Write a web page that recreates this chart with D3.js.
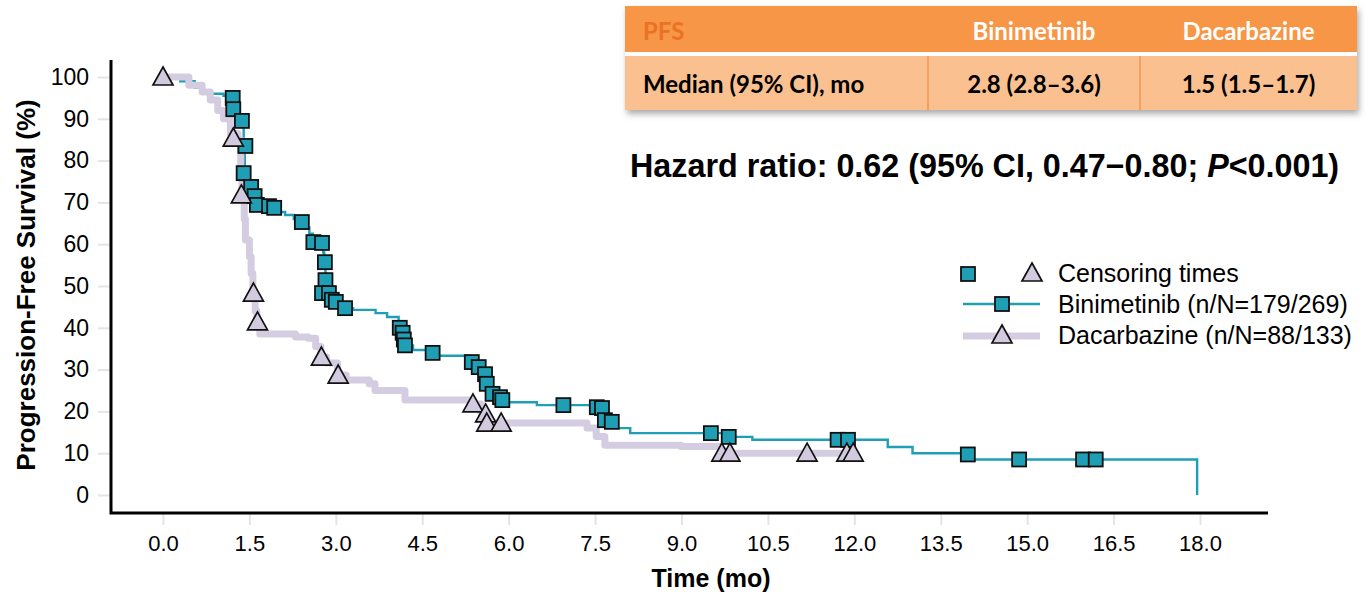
<!DOCTYPE html>
<html>
<head>
<meta charset="utf-8">
<script src="https://cdn.jsdelivr.net/npm/d3@7"></script>
<style>
  body { margin: 0; background: #fff; }
  svg { display: block; font-family: "Liberation Sans", Arial, sans-serif; }
</style>
</head>
<body>
<svg id="chart" width="1371" height="592"></svg>
<script>
"use strict";

// ---- data ----
const xTicks = [0, 1.5, 3, 4.5, 6, 7.5, 9, 10.5, 12, 13.5, 15, 16.5, 18];
const yTicks = [0, 10, 20, 30, 40, 50, 60, 70, 80, 90, 100];

// [month, PFS %] : level holds from this month onward
const biniSteps = [
  [0, 100], [0.3, 99], [0.55, 97.5], [0.7, 96], [1.05, 95.5], [1.2, 94], [1.24, 92.3], [1.3, 91],
  [1.36, 89.5], [1.4, 83.5], [1.42, 77], [1.47, 75], [1.5, 73.7], [1.57, 72.2], [1.61, 71],
  [1.64, 69.8], [1.7, 69.4], [1.84, 69.1], [1.93, 68.7], [2.02, 67.7], [2.12, 67], [2.27, 66],
  [2.4, 65.3], [2.48, 64], [2.54, 62.5], [2.6, 61], [2.68, 60.3], [2.78, 58], [2.8, 56],
  [2.82, 53], [2.83, 51.2], [2.84, 49], [2.88, 48], [2.95, 47], [3.02, 46.2], [3.12, 45.2],
  [3.18, 44.7], [3.3, 44.3], [3.69, 43.5], [3.89, 42.6], [4.09, 40], [4.16, 38.5], [4.19, 37],
  [4.22, 35.8], [4.34, 34.7], [4.64, 34.0], [4.77, 33.3], [5.33, 32.4], [5.43, 31], [5.53, 30],
  [5.57, 28], [5.62, 26.6], [5.67, 25.5], [5.74, 24.2], [5.83, 23.4], [5.89, 22.7], [5.97, 22.2],
  [6.49, 21.5], [7.55, 21], [7.63, 20.6], [7.67, 18.2], [7.82, 17.8], [7.88, 16], [8.11, 14.8],
  [9.79, 13.9], [10.23, 13.2], [12.58, 11.5], [13.01, 10], [14.0, 8.5], [17.95, 0]
];
const dacaSteps = [
  [0, 100], [0.45, 98], [0.68, 96.4], [0.82, 94.5], [0.95, 92], [1.05, 90], [1.17, 86.5],
  [1.3, 85], [1.35, 78], [1.37, 71.5], [1.41, 66], [1.43, 61], [1.5, 57], [1.53, 53],
  [1.56, 48.3], [1.6, 44], [1.63, 41.4], [1.68, 38.5], [2.3, 37.8], [2.52, 37.5], [2.65, 35.5],
  [2.74, 33], [2.84, 31.6], [3.03, 28.7], [3.18, 27.5], [3.58, 26.6], [3.68, 25], [4.2, 22.7],
  [5.35, 21.8], [5.52, 19.6], [5.59, 17.2], [7.36, 16], [7.52, 14], [7.67, 11.9], [8.99, 11.6],
  [9.68, 10], [12.0, 10]
];

const biniCensor = [
  [1.21, 95], [1.22, 92.3], [1.37, 89.5], [1.43, 83.5], [1.4, 77], [1.53, 73.7], [1.59, 71.5],
  [1.63, 69.4], [1.84, 69.1], [1.93, 68.7], [2.41, 65.3], [2.61, 60.5], [2.76, 60.3],
  [2.81, 55.7], [2.82, 51.4], [2.76, 48.3], [2.88, 48.3], [2.93, 46.7], [3.0, 46.2],
  [3.16, 44.7], [4.11, 40], [4.16, 38.8], [4.18, 37.2], [4.2, 35.8], [4.68, 34], [5.36, 31.8],
  [5.48, 30.6], [5.59, 28.9], [5.62, 26.6], [5.72, 24.2], [5.85, 23.4], [5.89, 22.7],
  [6.95, 21.5], [7.53, 21], [7.62, 20.8], [7.67, 17.9], [7.79, 17.5], [9.51, 14.8], [9.82, 13.9],
  [11.71, 13.2], [11.89, 13.2], [13.97, 9.7], [14.86, 8.5], [15.97, 8.5], [16.19, 8.5]
];
const dacaCensor = [
  [0, 100], [1.22, 85.4], [1.36, 71.8], [1.57, 48.3], [1.64, 41.4], [2.75, 33], [3.04, 28.7],
  [5.38, 21.8], [5.6, 19.4], [5.62, 17.2], [5.87, 17.2], [9.7, 10], [9.84, 10], [11.18, 10],
  [11.87, 10], [11.98, 10]
];

const tableHeader = ["PFS", "Binimetinib", "Dacarbazine"];
const tableRow = ["Median (95% CI), mo", "2.8 (2.8\u20133.6)", "1.5 (1.5\u20131.7)"];
const legendLabels = ["Censoring times", "Binimetinib (n/N=179/269)", "Dacarbazine (n/N=88/133)"];

// ---- styles ----
const teal = "#1E9FB5";
const lavender = "#D4CDE1";
const triFill = "#D2CBDF";

const svg = d3.select("#chart");

const x = d3.scaleLinear().domain([0, 18]).range([163, 1200]);
const y = d3.scaleLinear().domain([0, 100]).range([495, 77]);

// axes
const yAxis = svg.append("g")
    .attr("transform", "translate(111,0)")
    .call(d3.axisLeft(y).tickValues(yTicks).tickSize(13).tickPadding(9));
const xAxis = svg.append("g")
    .attr("transform", "translate(0,513)")
    .call(d3.axisBottom(x).tickValues(xTicks).tickSize(12).tickPadding(10).tickFormat(d3.format(".1f")));

[yAxis, xAxis].forEach(g => {
    g.select(".domain").remove();
    g.selectAll(".tick line").attr("stroke", "#e4e4e4").attr("stroke-width", 2);
    g.selectAll(".tick text")
        .attr("fill", "#000")
        .style("font-family", "'Liberation Sans', Arial, sans-serif");
});
yAxis.selectAll(".tick text").style("font-size", "23px");
xAxis.selectAll(".tick text").style("font-size", "22px");

svg.append("path")
    .attr("d", "M111,60V513H1268")
    .attr("fill", "none")
    .attr("stroke", "#000")
    .attr("stroke-width", 3);

svg.append("text")
    .attr("transform", "translate(35,285) rotate(-90)")
    .attr("text-anchor", "middle")
    .style("font-weight", "bold")
    .style("font-size", "26px")
    .text("Progression-Free Survival (%)");

svg.append("text")
    .attr("x", 711).attr("y", 587)
    .attr("text-anchor", "middle")
    .style("font-weight", "bold")
    .style("font-size", "25px")
    .text("Time (mo)");

// curves
const stepLine = d3.line()
    .x(d => x(d[0]))
    .y(d => y(d[1]))
    .curve(d3.curveStepAfter);

svg.append("path")
    .datum(biniSteps)
    .attr("d", stepLine)
    .attr("fill", "none")
    .attr("stroke", teal)
    .attr("stroke-width", 2.4);

svg.append("path")
    .datum(dacaSteps)
    .attr("d", stepLine)
    .attr("fill", "none")
    .attr("stroke", lavender)
    .attr("stroke-width", 7)
    .attr("stroke-linejoin", "round");

const triPath = "M0,-10L10,8L-10,8Z";

const drawSquare = (g, cx, cy) => g.append("rect")
    .attr("x", cx - 7).attr("y", cy - 7)
    .attr("width", 14).attr("height", 14)
    .attr("fill", teal)
    .attr("stroke", "#111")
    .attr("stroke-width", 1.8);

const drawTri = (g, cx, cy) => g.append("path")
    .attr("d", triPath)
    .attr("transform", `translate(${cx},${cy})`)
    .attr("fill", triFill)
    .attr("stroke", "#111")
    .attr("stroke-width", 1.7)
    .attr("stroke-linejoin", "miter");

const marks = svg.append("g");
biniCensor.forEach(d => drawSquare(marks, x(d[0]), y(d[1])));
dacaCensor.forEach(d => drawTri(marks, x(d[0]), y(d[1])));

// legend
const legend = svg.append("g");
drawSquare(legend, 968, 274);
drawTri(legend, 1032, 273);
legend.append("line")
    .attr("x1", 963).attr("x2", 1040).attr("y1", 304).attr("y2", 304)
    .attr("stroke", teal).attr("stroke-width", 2.6);
drawSquare(legend, 1002, 304);
legend.append("line")
    .attr("x1", 963).attr("x2", 1040).attr("y1", 336).attr("y2", 336)
    .attr("stroke", lavender).attr("stroke-width", 7);
drawTri(legend, 1002, 335);

legend.selectAll("text.lg")
    .data(legendLabels)
    .enter()
    .append("text")
    .attr("class", "lg")
    .attr("x", 1058)
    .attr("y", (d, i) => 282 + i * 31)
    .style("font-size", "25px")
    .text(d => d);

// hazard ratio
const hr = svg.append("text")
    .attr("x", 630).attr("y", 177)
    .style("font-weight", "bold")
    .style("font-size", "32.3px");
hr.append("tspan").text("Hazard ratio: 0.62 (95% CI, 0.47\u22120.80; ");
hr.append("tspan").style("font-style", "italic").text("P");
hr.append("tspan").text("<0.001)");

// table
const defs = svg.append("defs");
defs.append("filter")
    .attr("id", "shadow")
    .attr("x", "-5%").attr("y", "-20%").attr("width", "110%").attr("height", "150%")
    .append("feDropShadow")
    .attr("dx", 2).attr("dy", 4).attr("stdDeviation", 3)
    .attr("flood-color", "#666").attr("flood-opacity", 0.55);

const colEdges = [625, 928, 1140, 1357];
const table = svg.append("g").style("font-family", "Lato, 'Open Sans', sans-serif").style("font-weight", "bold");
table.append("rect")
    .attr("x", colEdges[0]).attr("y", 6)
    .attr("width", colEdges[3] - colEdges[0]).attr("height", 104)
    .attr("fill", "#FAC08F")
    .attr("filter", "url(#shadow)");
table.append("rect")
    .attr("x", colEdges[0]).attr("y", 6)
    .attr("width", colEdges[3] - colEdges[0]).attr("height", 46)
    .attr("fill", "#F79646");
table.append("rect")
    .attr("x", colEdges[0]).attr("y", 52)
    .attr("width", colEdges[3] - colEdges[0]).attr("height", 4)
    .attr("fill", "#fff");
[1, 2].forEach(i => table.append("line")
    .attr("x1", colEdges[i]).attr("x2", colEdges[i])
    .attr("y1", 56).attr("y2", 110)
    .attr("stroke", "#F4A05E").attr("stroke-width", 2));

const cellX = (i) => i === 0 ? colEdges[0] + 18 : (colEdges[i] + colEdges[i + 1]) / 2;
table.selectAll("text.hd")
    .data(tableHeader)
    .enter()
    .append("text")
    .attr("class", "hd")
    .attr("x", (d, i) => cellX(i))
    .attr("y", 40)
    .attr("text-anchor", (d, i) => i === 0 ? "start" : "middle")
    .attr("fill", (d, i) => i === 0 ? "#EA7225" : "#fff")
    .style("font-size", "24px")
    .text(d => d);
table.selectAll("text.rw")
    .data(tableRow)
    .enter()
    .append("text")
    .attr("class", "rw")
    .attr("x", (d, i) => cellX(i))
    .attr("y", 93)
    .attr("text-anchor", (d, i) => i === 0 ? "start" : "middle")
    .attr("fill", "#000")
    .style("font-size", "24px")
    .text(d => d);
</script>
</body>
</html>
